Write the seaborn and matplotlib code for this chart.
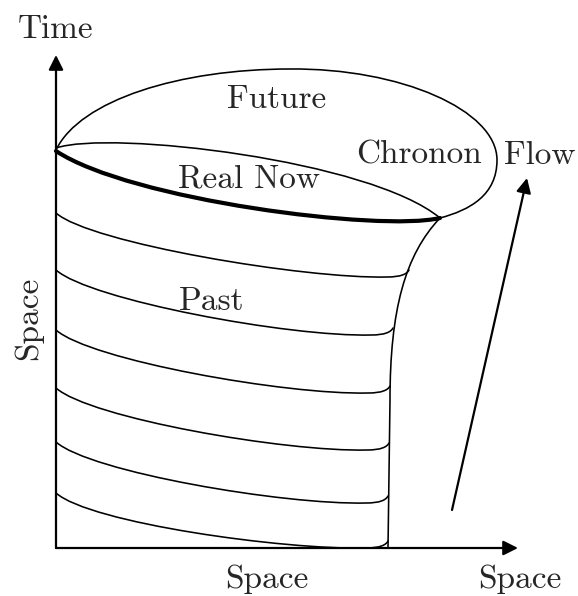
import seaborn as sns
import matplotlib.pyplot as plt
from matplotlib.path import Path
from matplotlib.patches import PathPatch

# diagram coordinates (pixels of the reference, y grows downwards)
origin = (56, 548)
time_tip = (56, 55)
space_tip = (518, 548)
flow_start = (452, 510)
flow_tip = (527, 178)

# past slices: left start y, lowest y, right end x, right end y
past_left_y = [213, 270, 330, 388, 442, 493]
past_low_y = [277, 335, 393, 450, 503, 548]
past_end_x = [409, 393, 390, 389, 388, 388]
past_end_y = [270, 328, 386, 443, 496, 541]

# chronon outline (cubic bezier control points)
future_loop = [(56, 150), (80, 100), (180, 69), (290, 69),
               (400, 68), (497, 110), (497, 160),
               (497, 195), (470, 210), (440, 218)]
now_upper = [(56, 148), (110, 130), (370, 160), (440, 218)]
real_now = [(56, 151), (130, 200), (380, 232), (440, 218)]
right_edge = [(440, 218), (405, 255), (390, 310), (390, 400), (388, 548)]

# text, x centre, baseline y, rotation
labels = [("Time", 56, 38, 0), ("Future", 277, 108, 0), ("Chronon", 419, 164, 0),
          ("Flow", 540, 164, 0), ("Real Now", 249, 187, 0), ("Past", 212, 310, 0),
          ("Space", 267, 588, 0), ("Space", 520, 588, 0)]
side_label = ("Space", 28, 318)

sns.set_theme(style="white")
plt.rcParams['font.family'] = ['cmr10', 'DejaVu Serif']
plt.rcParams['axes.formatter.use_mathtext'] = True

fig = plt.figure(figsize=(5.78, 5.96), dpi=100)
ax = fig.add_axes([0, 0, 1, 1])
ax.set_xlim(0, 578)
ax.set_ylim(596, 0)
ax.axis('off')


def bezier(pts, codes, lw):
    ax.add_patch(PathPatch(Path(pts, codes), fc='none', ec='black', lw=lw,
                           capstyle='round', joinstyle='round'))


M, C4 = Path.MOVETO, Path.CURVE4
bezier(future_loop, [M] + [C4] * 9, 1.15)
bezier(now_upper, [M, C4, C4, C4], 1.15)
bezier(real_now, [M, C4, C4, C4], 3.0)
bezier(right_edge, [M, C4, C4, C4, Path.LINETO], 1.15)

for y0, yl, xe, ye in zip(past_left_y, past_low_y, past_end_x, past_end_y):
    xl = xe - 22
    pts = [(origin[0], y0), (origin[0] + 34, y0 + 30), (xl - 82, yl + 2), (xl, yl),
           (xe - 8, yl), (xe - 2, yl - 3), (xe, ye)]
    bezier(pts, [M, C4, C4, C4, C4, C4, C4], 1.15)

arrow = dict(arrowstyle='-|>', lw=1.6, color='black', mutation_scale=22,
             shrinkA=0, shrinkB=0)
ax.annotate('', xy=time_tip, xytext=origin, arrowprops=arrow)
ax.annotate('', xy=space_tip, xytext=origin, arrowprops=arrow)
ax.annotate('', xy=flow_tip, xytext=flow_start, arrowprops=arrow)

for text, x, y, rot in labels:
    ax.text(x, y, text, fontsize=24, ha='center', va='baseline', rotation=rot)
ax.text(side_label[1], side_label[2], side_label[0], fontsize=24,
        ha='center', va='center', rotation=90)

fig.savefig('out.png', dpi=100, facecolor='white')
